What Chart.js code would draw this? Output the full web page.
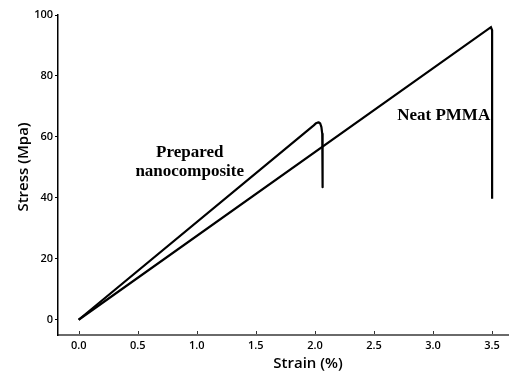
<!DOCTYPE html>
<html>
<head>
<meta charset="utf-8">
<script src="https://cdn.jsdelivr.net/npm/chart.js@4.4.0/dist/chart.umd.min.js"></script>
<style>
html,body{margin:0;padding:0;background:#fff;}
#wrap{width:509px;height:374px;}
</style>
</head>
<body>
<div id="wrap"><canvas id="c" width="509" height="374"></canvas></div>
<script>
// Data
const nanoStrain = [0, 1.99, 2.01, 2.03, 2.045, 2.055, 2.062, 2.065, 2.065];
const nanoStress = [0, 63.8, 64.5, 64.8, 64.4, 63.2, 61, 57, 43.5];
const pmmaStrain = [0, 3.49, 3.5, 3.5];
const pmmaStress = [0, 96, 95, 39.7];
const xTicks = [0, 0.5, 1.0, 1.5, 2.0, 2.5, 3.0, 3.5];
const yTicks = [0, 20, 40, 60, 80, 100];
const xTitle = 'Strain (%)';
const yTitle = 'Stress (Mpa)';
// text labels: [text, strain, stress]
const notes = [
  ['Prepared', 0.94, 55],
  ['nanocomposite', 0.94, 48.5],
  ['Neat PMMA', 3.09, 66.9]
];

const toPts = (xs, ys) => xs.map((x, i) => ({x: x, y: ys[i]}));

const decor = {
  id: 'decor',
  afterDraw(chart) {
    const ctx = chart.ctx;
    const xs = chart.scales.x, ys = chart.scales.y;
    ctx.save();
    // small inward x tick marks
    ctx.strokeStyle = '#333';
    ctx.lineWidth = 1;
    xTicks.forEach(v => {
      const px = Math.round(xs.getPixelForValue(v)) + 0.5;
      ctx.beginPath();
      ctx.moveTo(px, xs.top - 1);
      ctx.lineTo(px, xs.top - 4);
      ctx.stroke();
    });
    // annotations
    ctx.fillStyle = '#000';
    ctx.font = 'bold 17px "Liberation Serif", "Times New Roman", serif';
    ctx.textAlign = 'center';
    ctx.textBaseline = 'middle';
    notes.forEach(n => {
      ctx.fillText(n[0], xs.getPixelForValue(n[1]), ys.getPixelForValue(n[2]));
    });
    // axis titles
    ctx.font = '600 15px "Open Sans", sans-serif';
    ctx.fillStyle = '#000';
    ctx.fillText(xTitle, 308, 364);
    ctx.translate(24, 167);
    ctx.rotate(-Math.PI / 2);
    ctx.fillText(yTitle, 0, 0);
    ctx.restore();
  }
};

new Chart(document.getElementById('c'), {
  type: 'scatter',
  data: {
    datasets: [
      {data: toPts(nanoStrain, nanoStress), showLine: true, borderColor: '#000', borderWidth: 2.2, pointRadius: 0, tension: 0, fill: false, borderJoinStyle: 'round'},
      {data: toPts(pmmaStrain, pmmaStress), showLine: true, borderColor: '#000', borderWidth: 2.2, pointRadius: 0, tension: 0, fill: false}
    ]
  },
  options: {
    responsive: false,
    animation: false,
    layout: {padding: {top: 15, right: 0, left: 0, bottom: 0}},
    plugins: {legend: {display: false}, tooltip: {enabled: false}},
    scales: {
      x: {
        type: 'linear',
        min: -0.175,
        max: 3.643,
        afterBuildTicks: s => { s.ticks = xTicks.map(v => ({value: v})); },
        afterFit: s => { s.height = 39; },
        grid: {display: true, drawOnChartArea: false, drawTicks: false},
        border: {display: true, color: '#6a6a6a', width: 2},
        ticks: {
          color: '#000',
          padding: 4,
          maxRotation: 0,
          font: {family: 'Open Sans', size: 11, weight: '600'},
          callback: v => Number(v).toFixed(1)
        }
      },
      y: {
        type: 'linear',
        min: -5,
        max: 100,
        afterBuildTicks: s => { s.ticks = yTicks.map(v => ({value: v})); },
        afterFit: s => { s.width = 58; },
        grid: {display: true, drawOnChartArea: false, drawTicks: true, tickLength: 3, color: '#000'},
        border: {display: true, color: '#000', width: 1.5},
        ticks: {
          color: '#000',
          padding: 2,
          font: {family: 'Open Sans', size: 11, weight: '600'},
          callback: v => String(v)
        }
      }
    }
  },
  plugins: [decor]
});
</script>
</body>
</html>
